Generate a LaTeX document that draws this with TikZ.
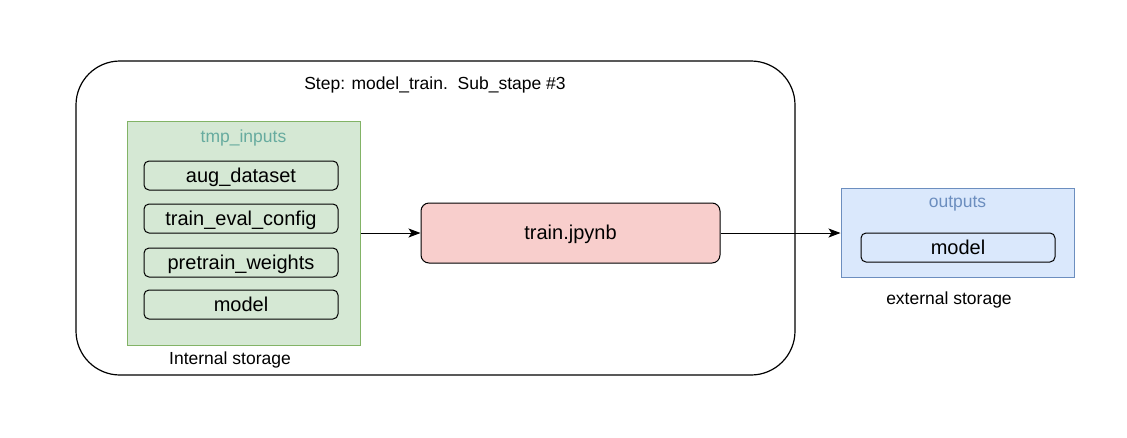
\documentclass[tikz,border=0pt]{standalone}
\usepackage{fontspec}
\setmainfont{Liberation Sans}
\usetikzlibrary{arrows.meta}
\definecolor{gfill}{HTML}{D5E8D4}
\definecolor{gdraw}{HTML}{82B366}
\definecolor{gtext}{HTML}{67AB9F}
\definecolor{rfill}{HTML}{F8CECC}
\definecolor{bfill}{HTML}{DAE8FC}
\definecolor{bdraw}{HTML}{6C8EBF}
\tikzset{
  bigtext/.style={font=\fontsize{20}{24}\selectfont, text height=18.1pt, text depth=4.24pt},
  itembox/.style={draw=black, line width=1pt, rounded corners=5pt, minimum width=194pt, minimum height=29pt, inner sep=0pt, bigtext},
  titletext/.style={inner sep=0pt, font=\fontsize{17.5}{21}\selectfont, text height=15.8pt, text depth=3.7pt},
  conn/.style={line width=1pt, -{Stealth[length=12pt, width=9pt, inset=3pt]}}
}
\begin{document}
\begin{tikzpicture}[x=1pt, y=-1pt]
\useasboundingbox[fill=white] (0,0) rectangle (1127,437);
\node[draw=black, line width=1.2pt, rounded corners=44pt, minimum width=719pt, minimum height=314pt, inner sep=0pt] (outer) at (435.5,218) {};
\node[titletext] (steptitle) at (435,83) {Step: model\_train.\ \ Sub\_stape \#3};
\node[draw=gdraw, fill=gfill, line width=1pt, minimum width=233pt, minimum height=224pt, inner sep=0pt] (green) at (243.5,233) {};
\node[titletext, text=gtext] (tmptitle) at (243.5,136) {tmp\_inputs};
\node[itembox] (aug) at (241,175.5) {aug\_dataset};
\node[itembox] (cfg) at (241,218.5) {train\_eval\_config};
\node[itembox] (pre) at (241,262.5) {pretrain\_weights};
\node[itembox] (mdl) at (241,304.5) {model};
\node[titletext] (intst) at (230,358) {Internal storage};
\node[draw=black, fill=rfill, line width=1pt, rounded corners=8pt, minimum width=299pt, minimum height=60pt, inner sep=0pt, bigtext] (train) at (570.5,233) {train.jpynb};
\node[draw=bdraw, fill=bfill, line width=1pt, minimum width=233pt, minimum height=89pt, inner sep=0pt] (outputs) at (957.5,232.5) {};
\node[titletext, text=bdraw] (outtitle) at (957.5,201) {outputs};
\node[itembox] (outmodel) at (958,247.5) {model};
\node[titletext] (extst) at (949,298) {external storage};
\draw[conn] (green.east) -- (train.west);
\draw[conn] (train.east) -- (train.east -| outputs.west);
\end{tikzpicture}
\end{document}
